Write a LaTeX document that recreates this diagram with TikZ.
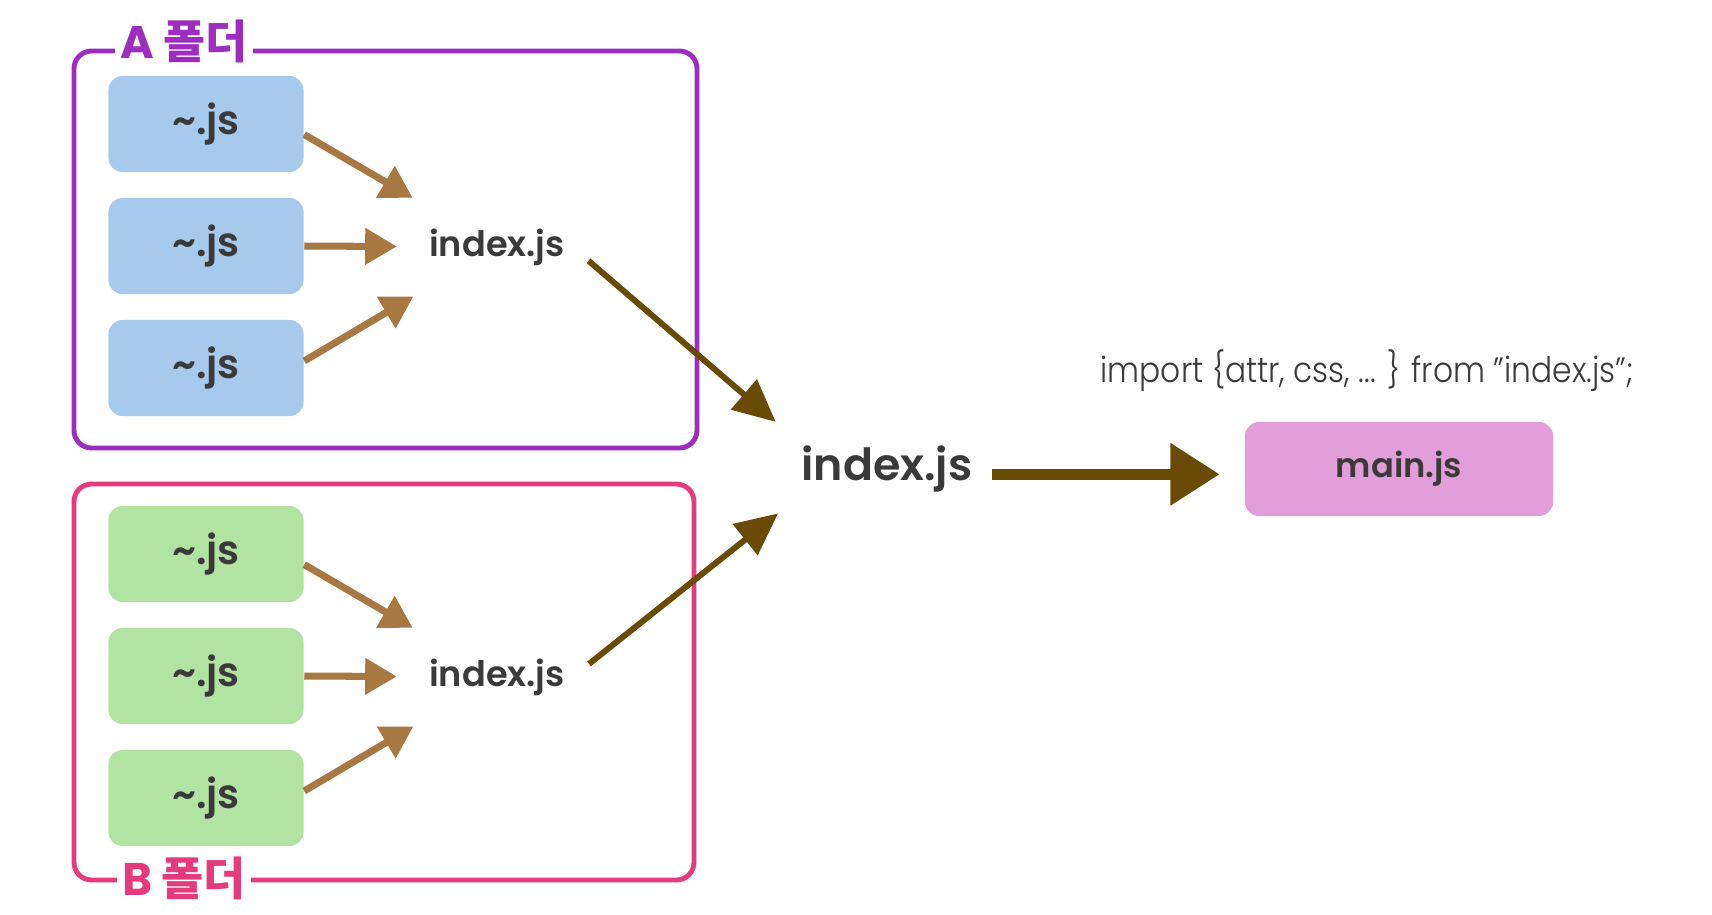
\documentclass[tikz,border=0pt]{standalone}
\usepackage{fontspec}
\setmainfont{Poppins}
\newfontfamily\lbl{Poppins}[UprightFont=* SemiBold]
\newfontfamily\thin{Poppins}[UprightFont=* Light]
\newfontfamily\kr{Noto Sans CJK KR}[UprightFont=* Bold]
\usetikzlibrary{arrows.meta}

\definecolor{cajaazul}{HTML}{A6C9EC}
\definecolor{cajaverde}{HTML}{B3E3A3}
\definecolor{cajarosa}{HTML}{E29ED9}
\definecolor{lineamorada}{HTML}{9C2DBF}
\definecolor{linearosa}{HTML}{E43B7C}
\definecolor{texto}{HTML}{3A3A3A}
\definecolor{flechaclara}{HTML}{A87843}
\definecolor{flechaoscura}{HTML}{6A4B05}

\tikzset{
  archivo/.style={rounded corners=4pt, minimum width=1.95cm, minimum height=0.96cm,
    text=texto, font=\lbl\fontsize{11.5}{13}\selectfont},
  indice/.style={text=texto, font=\lbl\fontsize{10}{12}\selectfont, inner sep=2pt},
  carpeta/.style={line width=1.4pt, rounded corners=5pt},
  flechita/.style={flechaclara, line width=2pt, -{Triangle[length=9pt, width=10pt]}},
  flechota/.style={flechaoscura, line width=1.7pt, -{Triangle[length=12pt, width=11pt]}},
}

\begin{document}
\begin{tikzpicture}[x=0.01cm, y=-0.01cm]
  \useasboundingbox (0,0) rectangle (1712,914);

  % A 폴더
  \draw[carpeta, lineamorada] (74,51) rectangle (697,448);
  \node[fill=white, inner sep=1.5pt, text=lineamorada] (etiquetaA) at (184,41)
    {\fontsize{13}{15}\selectfont\bfseries A \kr 폴더};
  \node[archivo, fill=cajaazul] (a1) at (206,124) {\textasciitilde.js};
  \node[archivo, fill=cajaazul] (a2) at (206,246) {\textasciitilde.js};
  \node[archivo, fill=cajaazul] (a3) at (206,368) {\textasciitilde.js};
  \node[indice] (ia) at (497,247) {index.js};

  % B 폴더
  \draw[carpeta, linearosa] (74,484) rectangle (694,880);
  \node[fill=white, inner sep=1.5pt, text=linearosa] (etiquetaB) at (184,878)
    {\fontsize{13}{15}\selectfont\bfseries B \kr 폴더};
  \node[archivo, fill=cajaverde] (b1) at (206,554) {\textasciitilde.js};
  \node[archivo, fill=cajaverde] (b2) at (206,676) {\textasciitilde.js};
  \node[archivo, fill=cajaverde] (b3) at (206,798) {\textasciitilde.js};
  \node[indice] (ib) at (497,677) {index.js};

  % index.js y main.js
  \node[text=texto, font=\lbl\fontsize{12.6}{15}\selectfont] (grande) at (887,469) {index.js};
  \node[archivo, fill=cajarosa, minimum width=3.08cm, minimum height=0.94cm,
    font=\lbl\fontsize{9.6}{12}\selectfont] (main) at (1399,469) {main.js};
  \node[text=texto, font=\thin\fontsize{10}{12}\selectfont] (importa) at (1367,371)
    {\scalebox{0.89}[1]{import \{attr, css, ... \} from ”index.js”;}};

  % Flechas
  \foreach \origen/\subir/\corte in {a1/-3pt/13pt,a2/0pt/7pt,a3/2pt/13pt}
    \draw[flechita, shorten >=\corte] ([yshift=\subir]\origen.east) -- (ia);
  \foreach \origen/\subir/\corte in {b1/-3pt/13pt,b2/0pt/7pt,b3/2pt/13pt}
    \draw[flechita, shorten >=\corte] ([yshift=\subir]\origen.east) -- (ib);
  \draw[flechota, shorten <=6pt, shorten >=5pt] (ia.east) -- (grande.north west);
  \draw[flechota, shorten <=6pt, shorten >=4pt] (ib.east) -- (grande.south west);
  \draw[flechota, line width=3.1pt, -{Triangle[length=14pt, width=17pt]}, shorten <=2pt, shorten >=7pt]
    ([yshift=-1.5pt]grande.east) -- ([yshift=-1.5pt]main.west);
\end{tikzpicture}
\end{document}
